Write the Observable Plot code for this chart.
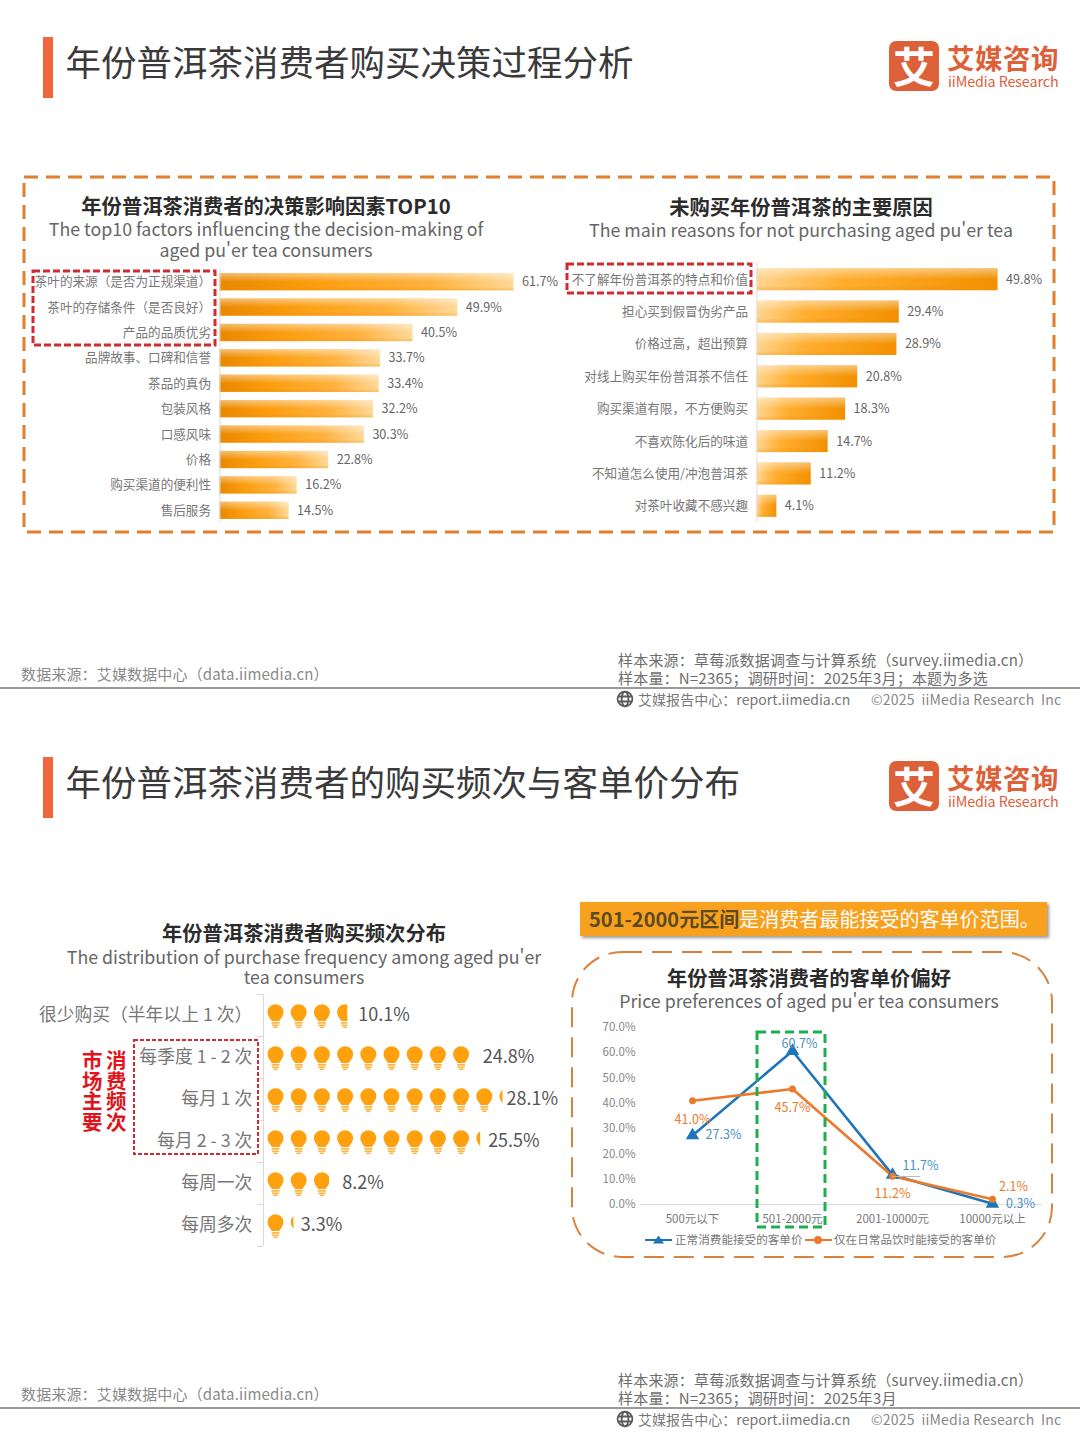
<!DOCTYPE html>
<html lang="zh"><head><meta charset="utf-8">
<script src="https://cdn.jsdelivr.net/npm/d3@7"></script>
<script src="https://cdn.jsdelivr.net/npm/@observablehq/plot@0.6"></script>
<style>
html,body{margin:0;padding:0;background:#fff}
#page{position:relative;width:1080px;height:1443px;overflow:hidden;font-family:"Noto Sans CJK SC","Noto Sans",sans-serif;color:#333}
#page svg{position:absolute;overflow:visible;background:transparent}
.t{position:absolute;white-space:nowrap;line-height:1}
.c{transform:translate(-50%,-50%)}
.l{transform:translateY(-50%)}
.box{position:absolute;box-sizing:border-box;background:transparent}
</style></head><body><div id="page"></div>
<script>
// ---------- data ----------
const factorLabels=["茶叶的来源（是否为正规渠道）","茶叶的存储条件（是否良好）","产品的品质优劣","品牌故事、口碑和信誉","茶品的真伪","包装风格","口感风味","价格","购买渠道的便利性","售后服务"];
const factorValues=[61.7,49.9,40.5,33.7,33.4,32.2,30.3,22.8,16.2,14.5];
const reasonLabels=["不了解年份普洱茶的特点和价值","担心买到假冒伪劣产品","价格过高，超出预算","对线上购买年份普洱茶不信任","购买渠道有限，不方便购买","不喜欢陈化后的味道","不知道怎么使用/冲泡普洱茶","对茶叶收藏不感兴趣"];
const reasonValues=[49.8,29.4,28.9,20.8,18.3,14.7,11.2,4.1];
const freqLabels=["很少购买（半年以上 1 次）","每季度 1 - 2 次","每月 1 次","每月 2 - 3 次","每周一次","每周多次"];
const freqValues=[10.1,24.8,28.1,25.5,8.2,3.3];
const percentPerBulb=2.75;
const priceLabels=["500元以下","501-2000元","2001-10000元","10000元以上"];
const normalPrice=[27.3,60.7,11.7,0.3];
const dailyPrice=[41.0,45.7,11.2,2.1];
const yTicks=[0,10,20,30,40,50,60,70];
const normalName="正常消费能接受的客单价", dailyName="仅在日常品饮时能接受的客单价";
// label offsets (layout only)
const normalNudge=[[31,0],[7,-7],[28,-9],[28,0]];
const dailyNudge=[[0,19],[0,19],[0,18],[21,-12]];
const freqNudge=[5.5,6,2,5.5,5.5,5.5];

const FF='"Noto Sans CJK SC","Noto Sans",sans-serif';
const NS="http://www.w3.org/2000/svg";
const page=document.getElementById("page");
function T(txt,x,y,size,color,opt={}){
  const d=document.createElement("div");
  d.className="t "+(opt.anchor==="c"?"c":"l");
  d.style.cssText+=`left:${x}px;top:${y-1.5}px;font-size:${size}px;color:${color};font-weight:${opt.bold?700:400};letter-spacing:${opt.ls||0}px;`+(opt.css||"");
  d.innerHTML=txt;page.appendChild(d);return d;
}
function B(x,y,w,h,css){
  const d=document.createElement("div");d.className="box";
  d.style.cssText+=`left:${x}px;top:${y}px;width:${w}px;height:${h}px;`+css;page.appendChild(d);return d;
}
// dashed frame with an explicit dash pattern
function D(x,y,w,h,color,sw,dash,rx=0){
  const s=document.createElementNS(NS,"svg");
  s.setAttribute("width",w);s.setAttribute("height",h);
  s.style.left=x+"px";s.style.top=y+"px";
  s.innerHTML=`<rect x="0" y="0" width="${w}" height="${h}" rx="${rx}" fill="none" stroke="${color}" stroke-width="${sw}" stroke-dasharray="${dash}"/>`;
  page.appendChild(s);
}
function place(svg,x,y){svg.style.left=x+"px";svg.style.top=y+"px";page.appendChild(svg);}

// ---------- header & footer ----------
const logoC="#dd6039";
function chrome(off,title,sample){
  B(43,37+off,10,61,"background:#f0663a");
  T(title,65.5,62.5+off,35.5,"#3a3a3a");
  B(889,41+off,50,50,`background:${logoC};border-radius:7px`);
  T("艾",914,66.5+off,42,"#fff",{anchor:"c",bold:true});
  T("艾媒咨询",947,59.5+off,27.5,logoC,{bold:true,ls:.5});
  T("iiMedia Research",948,82.5+off,14.3,logoC,{ls:-.1});
  T("数据来源：艾媒数据中心（data.iimedia.cn）",21,674.5+off,15,"#8a8a8a",{ls:.15});
  T("样本来源：草莓派数据调查与计算系统（survey.iimedia.cn）",618,660.5+off,15,"#6e6e6e",{ls:.2});
  T(sample,618,678.5+off,15,"#6e6e6e",{ls:.2});
  B(0,687+off,1080,2,"background:#9a9a9a");
  const g=document.createElementNS(NS,"svg");
  g.setAttribute("width",18);g.setAttribute("height",18);g.setAttribute("viewBox","0 0 18 18");
  g.style.left="616px";g.style.top=(690+off)+"px";
  g.innerHTML=`<g fill="none" stroke="#5a5a5a" stroke-width="1.8"><circle cx="9" cy="9" r="7.4"/><ellipse cx="9" cy="9" rx="3.4" ry="7.4"/><path d="M2 6.5H16M2 11.5H16"/></g>`;
  page.appendChild(g);
  T("艾媒报告中心：report.iimedia.cn",638,700+off,14,"#777",{ls:.05});
  T("©2025&nbsp; iiMedia Research&nbsp; Inc",871,700+off,14,"#888",{ls:.2});
}
chrome(0,"年份普洱茶消费者购买决策过程分析","样本量：N=2365；调研时间：2025年3月；本题为多选");
chrome(720,"年份普洱茶消费者的购买频次与客单价分布","样本量：N=2365；调研时间：2025年3月");

// ---------- panel 1 decor ----------
D(24,177,1030,355,"#e07f2e",3,"14 8");
T("年份普洱茶消费者的决策影响因素TOP10",266,206,20.3,"#2b2b2b",{anchor:"c",bold:true});
T("The top10 factors influencing the decision-making of",266,230,17.8,"#666",{anchor:"c"});
T("aged pu'er tea consumers",266,251,17.8,"#666",{anchor:"c"});
T("未购买年份普洱茶的主要原因",801,207,20.3,"#2b2b2b",{anchor:"c",bold:true});
T("The main reasons for not purchasing aged pu'er tea",801,231,17.8,"#666",{anchor:"c"});

// bar gradients, rendered inside each bar chart
function gradDefs(id,stops){
  return ()=>{
    const defs=document.createElementNS(NS,"defs");
    defs.innerHTML=`<linearGradient id="${id}" x1="0" y1="0" x2="1" y2="0">`+
      stops.map(([o,c])=>`<stop offset="${o}" stop-color="${c}"/>`).join("")+`</linearGradient>
      <linearGradient id="${id}v" x1="0" y1="0" x2="0" y2="1">
      <stop offset="0" stop-color="#fff" stop-opacity="0.45"/><stop offset="0.5" stop-color="#fff" stop-opacity="0"/>
      <stop offset="0.8" stop-color="#e88a00" stop-opacity="0"/><stop offset="1" stop-color="#f09000" stop-opacity="0.35"/></linearGradient>`;
    return defs;
  };
}
function barChart(id,stops,labels,values,pxPer,top,height,x0){
  const data=labels.map((name,i)=>({name,value:values[i]}));
  return place(Plot.plot({
    width:1054,height,margin:0,style:{fontFamily:FF,background:"transparent"},
    x:{domain:[0,70],range:[x0,x0+70*pxPer],axis:null},
    y:{domain:labels,range:[0,height],paddingInner:0.32,paddingOuter:0.16,round:false,axis:null},
    marks:[
      gradDefs(id,stops),
      Plot.barX(data,{x:"value",y:"name",fill:`url(#${id})`}),
      Plot.barX(data,{x:"value",y:"name",fill:`url(#${id}v)`}),
      Plot.ruleX([0],{stroke:"#dcdcdc"}),
      Plot.text(data,{x:0,y:"name",text:"name",textAnchor:"end",dx:-9,fontSize:12.6,fill:"#777"}),
      Plot.text(data,{x:"value",y:"name",text:d=>d.value.toFixed(1)+"%",textAnchor:"start",dx:8,fontSize:12.6,fill:"#666"})
    ]
  }),0,top);
}
barChart("g1",[[0,"#e98800"],[0.3,"#fb9c0e"],[0.72,"#ffb23f"],[1,"#ffd999"]],factorLabels,factorValues,4.765,269,254,219.5);
barChart("g2",[[0,"#ffd58f"],[0.35,"#ffae30"],[1,"#f39000"]],reasonLabels,reasonValues,4.84,263,259,756.5);
D(33,271,182,74,"#d32a2f",3,"7 3");
D(567,264,184,29,"#d32a2f",3,"7 3");

// ---------- panel 2: frequency pictogram ----------
T("年份普洱茶消费者购买频次分布",304,933,20.3,"#2b2b2b",{anchor:"c",bold:true});
T("The distribution of purchase frequency among aged pu'er",304,958,17.75,"#666",{anchor:"c"});
T("tea consumers",304,978.5,17.75,"#666",{anchor:"c"});

const bulbHead={draw(ctx,size){
  const k=Math.sqrt(size/Math.PI)/8;
  ctx.arc(0,-3.2*k,8*k,Math.PI*0.80,Math.PI*0.20);
  ctx.lineTo(3.6*k,5.6*k);ctx.lineTo(-3.6*k,5.6*k);ctx.closePath();
}};
const bulbBase={draw(ctx,size){
  const k=Math.sqrt(size/Math.PI)/8;
  for(const [y,w,h] of [[6.6,4,1.6],[8.9,3.6,1.6],[11.1,2.2,1.4]]){
    ctx.moveTo(-w*k,y*k);ctx.lineTo(w*k,y*k);ctx.lineTo(w*k,(y+h)*k);ctx.lineTo(-w*k,(y+h)*k);ctx.closePath();
  }
}};
const freq=freqLabels.map((name,i)=>({name,value:freqValues[i],nudge:freqNudge[i]}));
const bulbs=freq.flatMap(d=>d3.range(Math.ceil(d.value/percentPerBulb)).map(i=>({name:d.name,pos:i*percentPerBulb})));
const pxPerPercent=23.2/percentPerBulb, bulbShare=16/23.2;
const masks=freq.map(d=>{const n=d.value/percentPerBulb,f=Math.floor(n);
  return {name:d.name,x1:(f+(n-f)*bulbShare)*percentPerBulb,x2:(f+1)*percentPerBulb};});
const lastRow=[freqLabels[freqLabels.length-1]];
place(Plot.plot({
  width:570,height:252,margin:0,style:{fontFamily:FF,background:"transparent"},
  x:{domain:[0,60],range:[267,267+60*pxPerPercent],axis:null},
  y:{domain:freqLabels,range:[0,252],padding:0,round:false,axis:null},
  marks:[
    Plot.ruleX([-0.47],{stroke:"#d8d8d8"}),
    Plot.ruleY(freq,{y:"name",x1:-1.2,x2:-0.47,dy:-21,stroke:"#d8d8d8"}),
    Plot.ruleY(lastRow,{y:d=>d,x1:-1.2,x2:-0.47,dy:21,stroke:"#d8d8d8"}),
    Plot.dot(bulbs,{x:"pos",y:"name",r:8,symbol:bulbHead,fill:"#ffa10e",stroke:"none",dx:8}),
    Plot.dot(bulbs,{x:"pos",y:"name",r:8,symbol:bulbBase,fill:"#fcb645",stroke:"none",dx:8}),
    Plot.barX(masks,{x1:"x1",x2:"x2",y:"name",fill:"#fff"}),
    Plot.text(freq,{x:-1.8,y:"name",text:"name",textAnchor:"end",fontSize:17.8,fill:"#777"}),
    ...freq.map(d=>Plot.text([d],{x:"value",y:"name",text:r=>r.value.toFixed(1)+"%",textAnchor:"start",dx:d.nudge,fontSize:18,fill:"#555"}))
  ]
}),0,994);
D(134,1040,124,114,"#d32a2f",2,"4 2");
T("消费频次",116,1092,20.5,"#e1141c",{anchor:"c",bold:true,css:"writing-mode:vertical-rl;letter-spacing:0"});
T("市场主要",92,1092,20.5,"#e1141c",{anchor:"c",bold:true,css:"writing-mode:vertical-rl;letter-spacing:0"});

// ---------- panel 3: price line chart ----------
B(580,902,467,34,"background:#f7a11e;box-shadow:2px 2px 3px #999");
T('<span style="font-weight:700;color:#5c4a22">501-2000元区间</span>是消费者最能接受的客单价范围。',589,920.5,20.05,"#fff");
D(572,952,480,305,"#d9813f",2,"20 10",50);
T("年份普洱茶消费者的客单价偏好",809,978,20.3,"#2b2b2b",{anchor:"c",bold:true});
T("Price preferences of aged pu'er tea consumers",809,1002,17.75,"#666",{anchor:"c"});

const normal=priceLabels.map((p,i)=>({p,v:normalPrice[i],nudge:normalNudge[i]}));
const daily=priceLabels.map((p,i)=>({p,v:dailyPrice[i],nudge:dailyNudge[i]}));
const BLUE="#1f75b8",ORANGE="#ed7a2a";
const lab=(rows,fill)=>rows.map(d=>Plot.text([d],{x:"p",y:"v",text:r=>r.v.toFixed(1)+"%",dx:d.nudge[0],dy:d.nudge[1],fontSize:12.5,fill}));
place(Plot.plot({
  width:480,height:220,marginTop:7,marginBottom:36,marginLeft:68,marginRight:10,
  style:{fontFamily:FF,background:"transparent"},
  x:{domain:priceLabels,type:"point",range:[120,420],padding:0},
  y:{domain:[0,70],range:[184,7]},
  marks:[
    Plot.axisY({ticks:yTicks,tickSize:0,tickPadding:5,tickFormat:d=>d.toFixed(1)+"%",fontSize:11.5,fill:"#888",label:null}),
    Plot.axisX({tickSize:0,tickPadding:10,fontSize:11.5,fill:"#777",label:null}),
    Plot.ruleY([0],{stroke:"#d9d9d9"}),
    Plot.line(normal,{x:"p",y:"v",stroke:BLUE,strokeWidth:2.6}),
    Plot.line(daily,{x:"p",y:"v",stroke:ORANGE,strokeWidth:2.6}),
    Plot.dot(normal,{x:"p",y:"v",symbol:"triangle",r:5,fill:BLUE}),
    Plot.dot(daily,{x:"p",y:"v",symbol:"circle",r:3.5,fill:ORANGE}),
    ...lab(normal,"#4a90c4"),
    ...lab(daily,ORANGE)
  ]
}),572,1020);
D(757,1032,68,195,"#1fae4f",3,"9 5");
B(892,1176,28,1,"background:#bbb");
// legend
function swatch(x,y,color,tri){
  B(x,y-1,27,2.4,`background:${color}`);
  if(tri) B(x+8,y-4,11,8,`background:${color};clip-path:polygon(50% 0,100% 100%,0 100%)`);
  else B(x+9,y-4,8,8,`background:${color};border-radius:50%`);
}
swatch(645,1239.5,BLUE,true);
T(normalName,675,1241,11.6,"#777");
swatch(805,1239.5,ORANGE,false);
T(dailyName,834,1241,11.6,"#777");
</script></body></html>
